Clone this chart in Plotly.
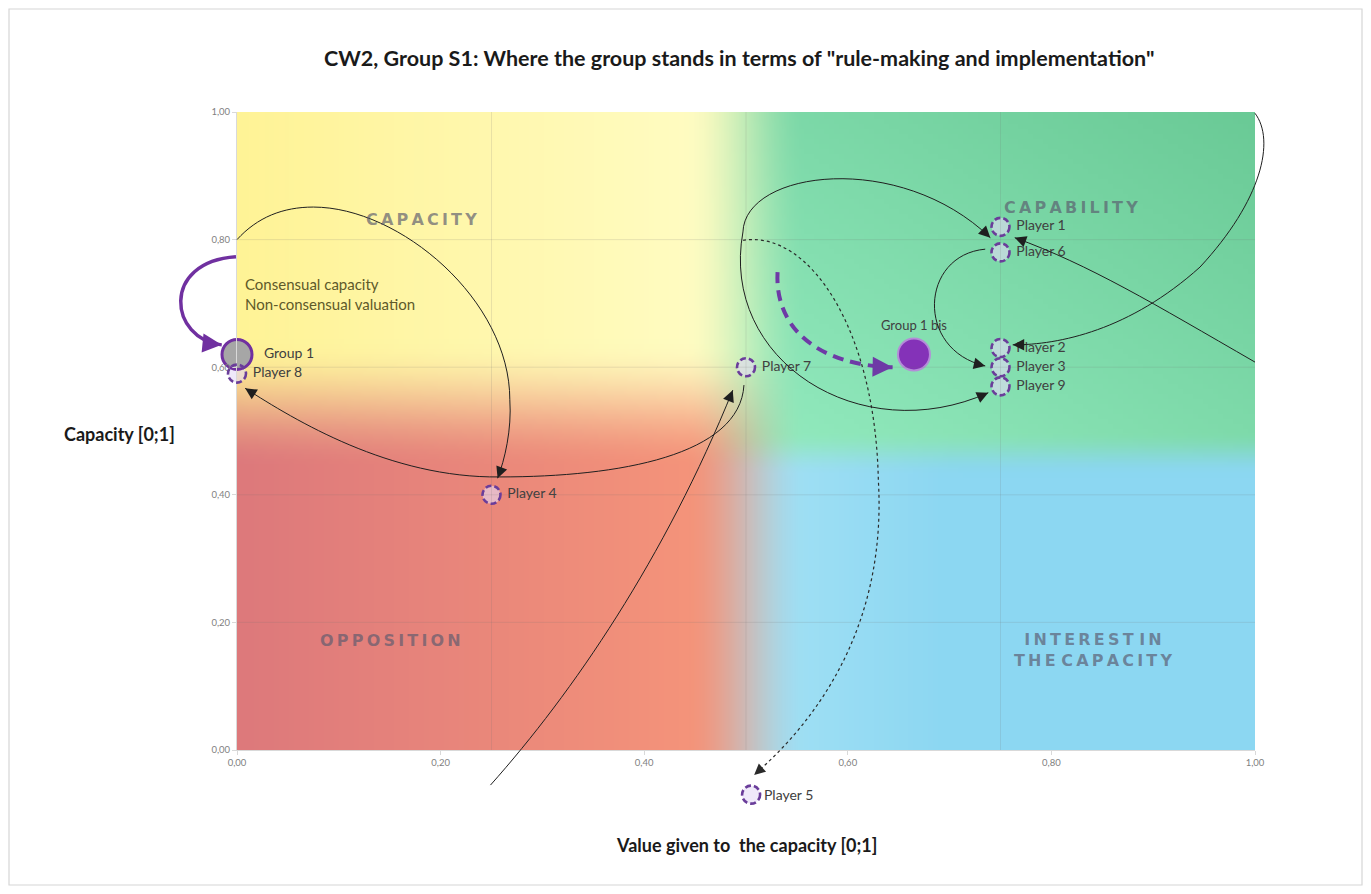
import base64
import math
import struct
import zlib

import numpy as np
import plotly.graph_objects as go

# ---------------- data ----------------
player_names = ["Player 1", "Player 6", "Player 2", "Player 3", "Player 9",
                "Player 7", "Player 4", "Player 8", "Player 5"]
player_x = [0.75, 0.75, 0.75, 0.75, 0.75, 0.50, 0.25, 0.00, 0.505]
player_y = [0.82, 0.78, 0.63, 0.60, 0.57, 0.60, 0.40, 0.59, -0.07]

group_names = ["Group 1"]
group_x = [0.00]
group_y = [0.62]

group_bis_names = ["Group 1 bis"]
group_bis_x = [0.665]
group_bis_y = [0.62]

x_ticks = [0.0, 0.2, 0.4, 0.6, 0.8, 1.0]
y_ticks = [0.0, 0.2, 0.4, 0.6, 0.8, 1.0]

quadrant_names = ["CAPACITY", "CAPABILITY", "OPPOSITION", "INTEREST IN<br>THE CAPACITY"]
quadrant_x = [0.181, 0.819, 0.151, 0.841]
quadrant_y = [0.831, 0.851, 0.171, 0.157]

note_lines = ["Consensual capacity", "Non-consensual valuation"]

title_text = 'CW2, Group S1: Where the group stands in terms of "rule-making and implementation"'
x_title = "Value given to\u00a0 the capacity [0;1]"
y_title = "Capacity [0;1]"

# connector curves (cubic Bezier control points, in axis units)
connectors = [
    # loop from the top-left down to Player 4
    dict(pts=[(0.0, 0.80), (0.02, 0.835), (0.045, 0.851), (0.075, 0.851),
              (0.160, 0.851), (0.268, 0.705), (0.268, 0.549),
              (0.270, 0.502), (0.263, 0.455), (0.256, 0.426)], style="thin"),
    # Player 7 -> Player 8
    dict(pts=[(0.498, 0.572), (0.494, 0.462), (0.376, 0.428), (0.258, 0.428),
              (0.150, 0.426), (0.057, 0.517), (0.008, 0.567)], style="thin"),
    # top loop -> Player 1
    dict(pts=[(0.497, 0.812), (0.499, 0.909), (0.651, 0.940), (0.740, 0.803)], style="thin"),
    # lower loop -> Player 9
    dict(pts=[(0.497, 0.812), (0.474, 0.611), (0.612, 0.470), (0.738, 0.560)], style="thin"),
    # Player 6 -> Player 3
    dict(pts=[(0.735, 0.785), (0.671, 0.776), (0.666, 0.627), (0.735, 0.602)], style="thin"),
    # big loop on the right -> Player 2
    dict(pts=[(1.0, 0.998), (1.020, 0.956), (1.007, 0.862), (0.946, 0.757),
              (0.877, 0.658), (0.808, 0.635), (0.762, 0.635)], style="thin"),
    # from the right edge -> Player 1
    dict(pts=[(1.0, 0.608), (0.90, 0.700), (0.838, 0.760), (0.764, 0.803)], style="thin"),
    # long line from below -> Player 7
    dict(pts=[(0.249, -0.055), (0.33, 0.09), (0.42, 0.30), (0.487, 0.564)], style="thin"),
    # dotted curve -> Player 5
    dict(pts=[(0.497, 0.799), (0.563, 0.815), (0.627, 0.658), (0.630, 0.423),
              (0.637, 0.235), (0.592, 0.078), (0.508, -0.039)], style="dot"),
    # purple arrow -> Group 1
    dict(pts=[(-0.001, 0.773), (-0.076, 0.765), (-0.066, 0.643), (-0.015, 0.635)], style="purple"),
    # purple dashed arrow -> Group 1 bis
    dict(pts=[(0.531, 0.749), (0.528, 0.658), (0.573, 0.603), (0.644, 0.600)], style="purple_dash"),
]

# ---------------- layout geometry ----------------
FIG_W, FIG_H = 1355, 878
M_L, M_R, M_T, M_B = 229, 108, 104, 136
PW = FIG_W - M_L - M_R
PH = FIG_H - M_T - M_B
XR = [0.0, 1.0]
YR = [0.0, 1.0]


def px_(v):
    return (v - XR[0]) / (XR[1] - XR[0])


def py_(v):
    return (v - YR[0]) / (YR[1] - YR[0])


def inside(xv, yv):
    return XR[0] <= xv <= XR[1] and YR[0] <= yv <= YR[1]


# ---------------- background gradient image ----------------
def smooth(a, b, t):
    t = np.clip((t - a) / (b - a), 0, 1)
    return t * t * (3 - 2 * t)


def lerp(c1, c2, t):
    c1 = np.array(c1, float)[None, None, :]
    c2 = np.array(c2, float)[None, None, :]
    return c1 * (1 - t[..., None]) + c2 * t[..., None]


W, H = 204, 128
gx = (np.arange(W) + 0.5) / W
gy = 1 - (np.arange(H) + 0.5) / H
X, Y = np.meshgrid(gx, gy)
yellow = lerp((255, 243, 150), (255, 252, 194), np.clip(X / 0.45, 0, 1))
red = lerp((221, 121, 124), (245, 148, 122), np.clip(X / 0.45, 0, 1))
gt = np.clip(((X - 0.5) / 0.5 + (Y - 0.5) / 0.5) / 2, 0, 1)
green = lerp((146, 234, 190), (106, 202, 150), gt)
blue = lerp((165, 226, 245), (140, 215, 242), np.clip((X - 0.5) / 0.2, 0, 1))
wx = smooth(0.44, 0.56, X)[..., None]
wyl = smooth(0.44, 0.64, Y)[..., None]
wyr = smooth(0.43, 0.50, Y)[..., None]
left = red * (1 - wyl) + yellow * wyl
right = blue * (1 - wyr) + green * wyr
img = np.clip(left * (1 - wx) + right * wx, 0, 255).astype(np.uint8)


def png_bytes(arr):
    h, w, _ = arr.shape
    raw = b"".join(b"\x00" + arr[r].tobytes() for r in range(h))

    def chunk(t, d):
        return struct.pack(">I", len(d)) + t + d + struct.pack(">I", zlib.crc32(t + d) & 0xFFFFFFFF)

    return (b"\x89PNG\r\n\x1a\n" + chunk(b"IHDR", struct.pack(">IIBBBBB", w, h, 8, 2, 0, 0, 0))
            + chunk(b"IDAT", zlib.compress(raw, 9)) + chunk(b"IEND", b""))


bg_src = "data:image/png;base64," + base64.b64encode(png_bytes(img)).decode()

# ---------------- figure ----------------
fig = go.Figure()

FAM = "Lato, 'Open Sans', sans-serif"
LABEL_FONT = dict(family=FAM, size=14, color="#404040")
NB = "\u00a0"
RING_FILL = "rgba(228,218,246,0.6)"

fig.add_trace(go.Scatter(
    x=player_x, y=player_y, mode="markers+text",
    text=[(NB + n) if inside(xv, yv) else "" for n, xv, yv in zip(player_names, player_x, player_y)],
    textposition="middle right",
    textfont=LABEL_FONT,
    marker=dict(size=18, color=RING_FILL, line=dict(width=0)),
    cliponaxis=False, hoverinfo="skip"))

fig.add_trace(go.Scatter(
    x=group_x, y=group_y, mode="markers+text",
    text=[NB + NB + n for n in group_names], textposition="middle right",
    textfont=LABEL_FONT,
    marker=dict(size=30, color="#A6A6A6", line=dict(width=3, color="#7030A0")),
    cliponaxis=False, hoverinfo="skip"))

fig.add_trace(go.Scatter(
    x=group_bis_x, y=group_bis_y, mode="markers+text",
    text=group_bis_names, textposition="top center",
    textfont=dict(family=FAM, size=13, color="#404040"),
    marker=dict(size=32, color="#8432B8", line=dict(width=2, color="#B48CD8")),
    cliponaxis=False, hoverinfo="skip"))

shapes = []
annotations = []

# faint grid lines
for gxv in [0.25, 0.5, 0.75]:
    shapes.append(dict(type="line", xref="paper", yref="paper", x0=px_(gxv), x1=px_(gxv), y0=0, y1=1,
                       line=dict(color="rgba(110,110,110,0.16)", width=1), layer="above"))
for gyv in y_ticks[1:-1]:
    shapes.append(dict(type="line", xref="paper", yref="paper", x0=0, x1=1, y0=py_(gyv), y1=py_(gyv),
                       line=dict(color="rgba(110,110,110,0.16)", width=1), layer="above"))

# dashed rings around players (labels of points outside the axis range as annotations,
# since Plotly hides out-of-range scatter points)
for n, xv, yv in zip(player_names, player_x, player_y):
    outside = not inside(xv, yv)
    shapes.append(dict(type="circle", xref="paper", yref="paper",
                       xsizemode="pixel", ysizemode="pixel",
                       xanchor=px_(xv), yanchor=py_(yv), x0=-9, x1=9, y0=-9, y1=9,
                       fillcolor=RING_FILL if outside else "rgba(0,0,0,0)",
                       line=dict(color="#6A3D9A", width=2.6, dash="6px,3px")))
    if outside:
        annotations.append(dict(x=px_(xv), y=py_(yv), xref="paper", yref="paper", showarrow=False,
                                text=n, xanchor="left", yanchor="middle", xshift=11,
                                font=LABEL_FONT))

STYLES = {
    "thin": dict(color="#1f1f1f", width=1, dash="solid", head=2.3, hw=1),
    "dot": dict(color="#2a2a2a", width=1.2, dash="dot", head=2.0, hw=1.1),
    "purple": dict(color="#7030A0", width=3.5, dash="solid", head=1.1, hw=3.5),
    "purple_dash": dict(color="#6E3AA6", width=4, dash="11px,7px", head=1.0, hw=4),
}

for c in connectors:
    st = STYLES[c["style"]]
    pts = [(px_(a), py_(b)) for a, b in c["pts"]]
    d = "M %.4f,%.4f" % pts[0]
    for i in range(1, len(pts), 3):
        d += " C %.4f,%.4f %.4f,%.4f %.4f,%.4f" % (pts[i] + pts[i + 1] + pts[i + 2])
    shapes.append(dict(type="path", xref="paper", yref="paper", path=d,
                       line=dict(color=st["color"], width=st["width"], dash=st["dash"])))
    (xc, yc), (xe, ye) = pts[-2], pts[-1]
    dxp, dyp = (xe - xc) * PW, -(ye - yc) * PH
    nrm = math.hypot(dxp, dyp)
    L = 10
    annotations.append(dict(x=xe, y=ye, xref="paper", yref="paper", text="",
                            showarrow=True, arrowhead=2, arrowsize=st["head"],
                            arrowwidth=st["hw"], arrowcolor=st["color"],
                            ax=-dxp / nrm * L, ay=-dyp / nrm * L, axref="pixel", ayref="pixel"))


# quadrant labels (letter-spaced, wide look)
def spaced(s):
    parts = s.split("<br>")
    return "<br>".join(" ".join("\u2009".join(w) for w in p.split(" ")) for p in parts)


for name, qx, qy in zip(quadrant_names, quadrant_x, quadrant_y):
    annotations.append(dict(x=qx, y=qy, xref="paper", yref="paper", showarrow=False,
                            xanchor="center", yanchor="middle",
                            text="<b>" + spaced(name) + "</b>",
                            font=dict(family="DejaVu Sans", size=16, color="rgba(90,90,110,0.66)"),
                            align="center"))

# note text
annotations.append(dict(x=px_(0.006), y=py_(0.715), xref="paper", yref="paper", showarrow=False,
                        xanchor="left", yanchor="middle", align="left",
                        text="<br>".join(note_lines),
                        font=dict(family=FAM, size=15, color="#5E5A2A")))

# title and axis titles
annotations.append(dict(x=0.493, y=1.085, xref="paper", yref="paper", showarrow=False,
                        xanchor="center", yanchor="middle",
                        text="<b>" + title_text + "</b>",
                        font=dict(family=FAM, size=21.5, color="#1a1a1a")))
annotations.append(dict(x=0.5, y=-0.149, xref="paper", yref="paper", showarrow=False,
                        xanchor="center", yanchor="middle",
                        text="<b>" + x_title + "</b>",
                        font=dict(family=FAM, size=18, color="#1a1a1a")))
annotations.append(dict(x=-0.115, y=0.495, xref="paper", yref="paper", showarrow=False,
                        xanchor="center", yanchor="middle",
                        text="<b>" + y_title + "</b>",
                        font=dict(family=FAM, size=18, color="#1a1a1a")))

# outer border
shapes.append(dict(type="rect", xref="paper", yref="paper",
                   x0=(1 - M_L) / PW, x1=(FIG_W - 1 - M_L) / PW,
                   y0=-(M_B - 1) / PH, y1=(PH + M_T - 1) / PH,
                   line=dict(color="#D6D6D6", width=1.2), layer="below"))

axis_common = dict(showgrid=False, zeroline=False, showline=True,
                   linecolor="#D9D9D9", linewidth=1, ticks="outside", ticklen=4,
                   tickcolor="#D9D9D9", tickformat=".2f",
                   tickfont=dict(family=FAM, size=9.5, color="#7F7F7F"))

fig.update_layout(
    width=FIG_W, height=FIG_H, autosize=False,
    margin=dict(l=M_L, r=M_R, t=M_T, b=M_B),
    paper_bgcolor="white", plot_bgcolor="white",
    showlegend=False, hovermode=False,
    separators=", ",
    xaxis=dict(axis_common, range=XR, tickvals=x_ticks),
    yaxis=dict(axis_common, range=YR, tickvals=y_ticks),
    images=[dict(source=bg_src, xref="x", yref="y", x=XR[0], y=YR[1],
                 sizex=XR[1] - XR[0], sizey=YR[1] - YR[0], sizing="stretch",
                 xanchor="left", yanchor="top", layer="below")],
    shapes=shapes, annotations=annotations,
)

fig.write_html("out.html")
